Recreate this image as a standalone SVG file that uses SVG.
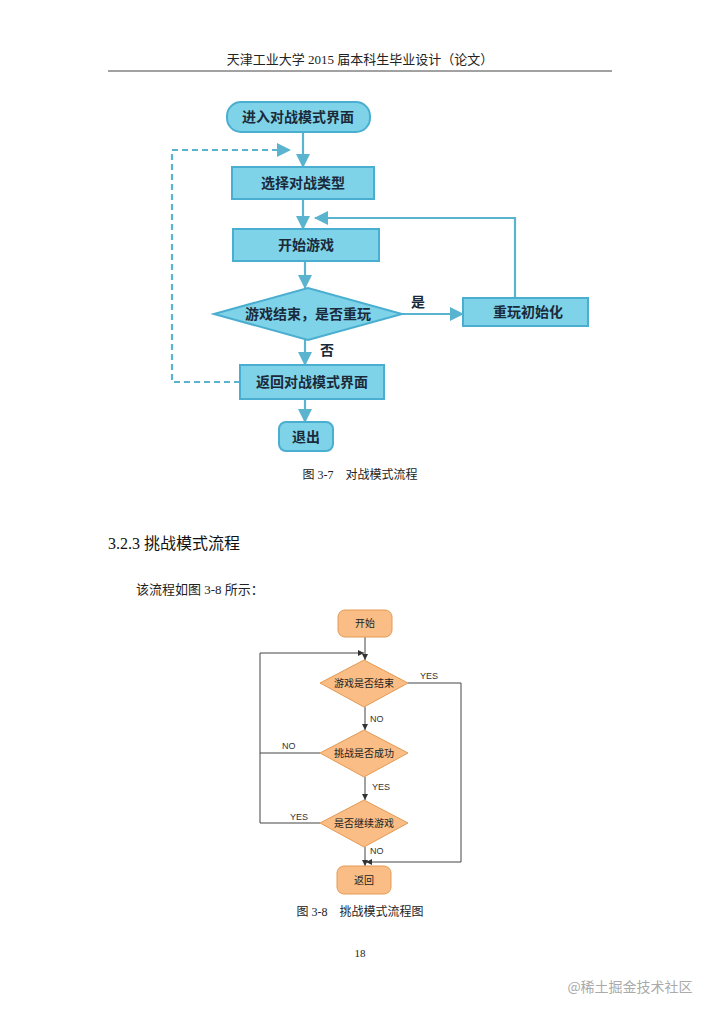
<svg xmlns="http://www.w3.org/2000/svg" width="720" height="1019" viewBox="0 0 720 1019">
<defs>
<style>
.serif{font-family:"Liberation Serif","Noto Sans CJK SC",serif;fill:#222}
.b{fill:#7fd3e8;stroke:#4aaed0;stroke-width:2}
.bt{font-family:"Noto Sans CJK SC",serif;font-weight:bold;font-size:14px;fill:#1a2a3a;text-anchor:middle}
.bl{fill:none;stroke:#5ab4cf;stroke-width:2.2}
.o{fill:#f9bd85;stroke:#e39a55;stroke-width:1}
.ot{font-family:"Noto Sans CJK SC",sans-serif;font-size:10px;fill:#222;text-anchor:middle}
.ol{fill:none;stroke:#444;stroke-width:1}
.lt{font-family:"Liberation Sans",sans-serif;font-size:9px;fill:#333}
</style>
<marker id="ab" markerWidth="10" markerHeight="10" refX="9" refY="5" orient="auto" markerUnits="userSpaceOnUse"><path d="M0,0 L10,5 L0,10 Z" fill="#5ab4cf"/></marker>
<marker id="ab2" markerWidth="14" markerHeight="14" refX="13" refY="7" orient="auto" markerUnits="userSpaceOnUse"><path d="M0,0 L14,7 L0,14 Z" fill="#5ab4cf"/></marker>
<marker id="ak" markerWidth="6" markerHeight="6" refX="6" refY="3" orient="auto" markerUnits="userSpaceOnUse"><path d="M0,0 L6,3 L0,6 Z" fill="#333"/></marker>
</defs>
<rect width="720" height="1019" fill="#fff"/>
<text x="360" y="64" class="serif" font-size="13" text-anchor="middle">天津工业大学 2015 届本科生毕业设计（论文）</text>
<line x1="108" y1="71" x2="612" y2="71" stroke="#444" stroke-width="1"/>

<g id="connectors1">
<path class="bl" d="M303,132 V167" marker-end="url(#ab2)"/>
<path class="bl" d="M303,199 V229" marker-end="url(#ab2)"/>
<path class="bl" d="M305,261 V288" marker-end="url(#ab2)"/>
<path class="bl" d="M305,340 V365" marker-end="url(#ab2)"/>
<path class="bl" d="M305,399 V422" marker-end="url(#ab2)"/>
<path class="bl" d="M402,314 H463" marker-end="url(#ab2)"/>
<path class="bl" d="M515,298 V218 H315" marker-end="url(#ab2)"/>
<path class="bl" d="M240,382 H172 V150 H290" stroke-dasharray="6,4" marker-end="url(#ab2)"/>
</g>
<g id="n1"><rect class="b" x="227" y="102" width="143" height="30" rx="14"/><text class="bt" x="298" y="122">进入对战模式界面</text></g>
<g id="n2"><rect class="b" x="232" y="167" width="142" height="32"/><text class="bt" x="303" y="188">选择对战类型</text></g>
<g id="n3"><rect class="b" x="233" y="229" width="146" height="32"/><text class="bt" x="306" y="250">开始游戏</text></g>
<g id="n4"><path class="b" d="M214,314 L308,288 L402,314 L308,340 Z"/><text class="bt" x="308" y="319">游戏结束，是否重玩</text></g>
<g id="n5"><rect class="b" x="463" y="298" width="125" height="28"/><text class="bt" x="528" y="317">重玩初始化</text></g>
<g id="n6"><rect class="b" x="240" y="365" width="144" height="34"/><text class="bt" x="312" y="387">返回对战模式界面</text></g>
<g id="n7"><rect class="b" x="279" y="422" width="54" height="29" rx="7"/><text class="bt" x="306" y="442">退出</text></g>
<text class="bt" x="418" y="307">是</text>
<text class="bt" x="327" y="355">否</text>
<text x="360" y="479" class="serif" font-size="12" text-anchor="middle">图 3-7　对战模式流程</text>

<text x="108" y="549" font-family="Liberation Serif,Noto Sans CJK SC,sans-serif" font-size="16" fill="#111">3.2.3 <tspan font-family="Noto Sans CJK SC,sans-serif">挑战模式流程</tspan></text>
<text x="136" y="594" class="serif" font-size="13">该流程如图 3-8 所示：</text>

<g id="connectors2">
<path class="ol" d="M365,637 V660" marker-end="url(#ak)"/>
<path class="ol" d="M365,707 V730" marker-end="url(#ak)"/>
<path class="ol" d="M365,777 V800" marker-end="url(#ak)"/>
<path class="ol" d="M365,847 V866" marker-end="url(#ak)"/>
<path class="ol" d="M408,683 H461 V862 H366" marker-end="url(#ak)"/>
<path class="ol" d="M320,753 H260"/>
<path class="ol" d="M320,823 H260 V653 H364" marker-end="url(#ak)"/>
</g>
<g id="m1"><rect class="o" x="338" y="610" width="54" height="27" rx="7"/><text class="ot" x="365" y="627">开始</text></g>
<g id="m2"><path class="o" d="M320,683 L364,660 L408,683 L364,707 Z"/><text class="ot" x="364" y="687">游戏是否结束</text></g>
<g id="m3"><path class="o" d="M320,753 L364,730 L408,753 L364,777 Z"/><text class="ot" x="364" y="757">挑战是否成功</text></g>
<g id="m4"><path class="o" d="M320,823 L364,800 L408,823 L364,847 Z"/><text class="ot" x="364" y="827">是否继续游戏</text></g>
<g id="m5"><rect class="o" x="337" y="866" width="54" height="28" rx="7"/><text class="ot" x="364" y="884">返回</text></g>
<text class="lt" x="420" y="679">YES</text>
<text class="lt" x="370" y="722">NO</text>
<text class="lt" x="282" y="749">NO</text>
<text class="lt" x="372" y="790">YES</text>
<text class="lt" x="290" y="820">YES</text>
<text class="lt" x="370" y="854">NO</text>
<text x="360" y="916" class="serif" font-size="12" text-anchor="middle">图 3-8　挑战模式流程图</text>
<text x="360" y="957" class="serif" font-size="11" text-anchor="middle">18</text>
<text x="630" y="992" font-family="Noto Sans CJK SC,sans-serif" font-size="14" fill="#aaa" text-anchor="middle">@稀土掘金技术社区</text>
</svg>
